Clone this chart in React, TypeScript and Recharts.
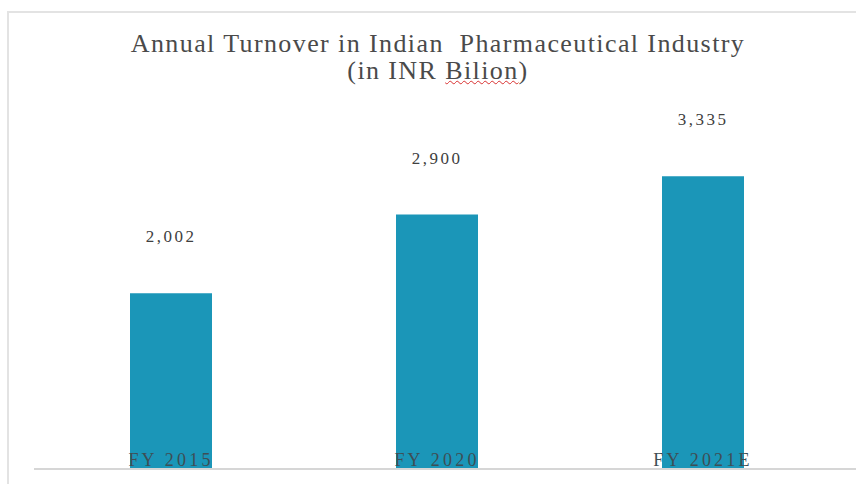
import { BarChart, Bar, XAxis, YAxis, LabelList } from 'recharts'

const years = ['FY 2015', 'FY 2020', 'FY 2021E']
const turnover = [2002, 2900, 3335]

const chartData = years.map((name, i) => ({ name, value: turnover[i] }))

const BAR_COLOR = '#1b96b8'
const TEXT_COLOR = '#404040'
const FONT = '"Liberation Serif", "Times New Roman", serif'

const renderTick = (props: any) => {
  const { x, y, payload } = props
  return (
    <text x={x} y={y} dy={-3} textAnchor="middle" fontFamily={FONT} fontSize={18} fill="#3e4e55" letterSpacing={3.2}>
      {payload.value}
    </text>
  )
}

const renderValue = (props: any) => {
  const { x, y, width, value } = props
  return (
    <text x={x + width / 2} y={y - 51} textAnchor="middle" fontFamily={FONT} fontSize={17} fill={TEXT_COLOR} letterSpacing={2.5}>
      {value.toLocaleString('en-US')}
    </text>
  )
}

export default function App() {
  return (
    <div style={{ position: 'absolute', left: 0, top: 0, width: 856, height: 484, background: '#fff' }}>
      <div style={{ position: 'absolute', left: 7, top: 11, right: 0, bottom: 0, borderLeft: '2px solid #e3e3e3', borderTop: '2px solid #e3e3e3' }} />
      <div
        style={{
          position: 'absolute',
          left: 10,
          top: 30,
          width: 856,
          textAlign: 'center',
          fontFamily: FONT,
          fontSize: 26,
          lineHeight: '27px',
          letterSpacing: 1.4,
          color: '#4a4a4a',
        }}
      >
        <div>Annual Turnover in Indian&nbsp; Pharmaceutical Industry</div>
        <div>
          (in INR <span style={{ textDecoration: 'underline wavy #d83030', textDecorationThickness: 1 }}>Bilion</span>)
        </div>
      </div>
      <BarChart
        width={856}
        height={484}
        data={chartData}
        margin={{ top: 118, right: 0, left: 34, bottom: 0 }}
        barCategoryGap={92}
        style={{ position: 'absolute', left: 0, top: 0 }}
      >
        <YAxis hide domain={[0, 4000]} />
        <Bar dataKey="value" fill={BAR_COLOR} isAnimationActive={false}>
          <LabelList dataKey="value" content={renderValue} />
        </Bar>
        <XAxis
          dataKey="name"
          height={15}
          padding={{ left: 4, right: 20 }}
          axisLine={{ stroke: '#d6d6d6', strokeWidth: 2 }}
          tickLine={false}
          tickMargin={0}
          tickSize={0}
          tick={renderTick}
          interval={0}
        />
      </BarChart>
    </div>
  )
}
